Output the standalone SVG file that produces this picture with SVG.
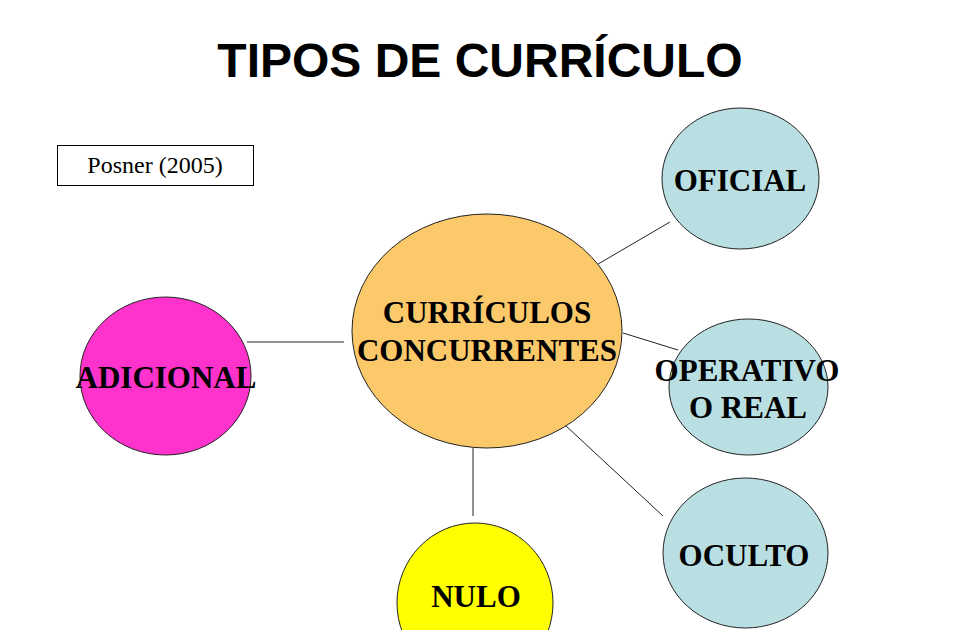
<svg xmlns="http://www.w3.org/2000/svg" width="960" height="630" viewBox="0 0 960 630">
<style>
.node{stroke:#222;stroke-width:1}
.lbl{font-family:"Liberation Serif","Times New Roman",serif;font-weight:bold;font-size:31px;fill:#000;text-anchor:middle}
.conn line{stroke:#222;stroke-width:1}
</style>
<rect width="960" height="630" fill="#fff"/>
<text x="480" y="77" font-family="Liberation Sans, Arial, sans-serif" font-weight="bold" font-size="48" text-anchor="middle" fill="#000">TIPOS DE CURRÍCULO</text>
<g id="posner">
<rect x="57.5" y="145.5" width="196" height="40" fill="#fff" stroke="#000" stroke-width="1"/>
<text x="155" y="173" font-family="Liberation Serif, Times New Roman, serif" font-size="24" text-anchor="middle" fill="#000">Posner (2005)</text>
</g>
<g id="connectors" class="conn">
<line x1="247" y1="342" x2="344" y2="342"/>
<line x1="593" y1="267" x2="670" y2="222"/>
<line x1="623" y1="333" x2="678" y2="350"/>
<line x1="565" y1="425" x2="663" y2="516"/>
<line x1="473" y1="448" x2="473" y2="516"/>
</g>
<g id="central">
<ellipse class="node" cx="487" cy="331" rx="135" ry="117" fill="#FBC96A"/>
<text class="lbl" x="487" y="323">CURRÍCULOS</text>
<text class="lbl" x="487" y="361">CONCURRENTES</text>
</g>
<g id="adicional">
<ellipse class="node" cx="165.5" cy="376" rx="85.5" ry="79" fill="#FF33CC"/>
<text class="lbl" x="166" y="388">ADICIONAL</text>
</g>
<g id="oficial">
<ellipse class="node" cx="740.5" cy="178.5" rx="78.5" ry="70.5" fill="#BADFE3"/>
<text class="lbl" x="740" y="191">OFICIAL</text>
</g>
<g id="operativo">
<ellipse class="node" cx="748.5" cy="387" rx="79.5" ry="68" fill="#BADFE3"/>
<text class="lbl" x="747" y="381">OPERATIVO</text>
<text class="lbl" x="748" y="418">O REAL</text>
</g>
<g id="oculto">
<ellipse class="node" cx="745.5" cy="553" rx="82.5" ry="75" fill="#BADFE3"/>
<text class="lbl" x="744" y="566">OCULTO</text>
</g>
<g id="nulo">
<ellipse class="node" cx="475" cy="603" rx="78" ry="80" fill="#FFFF00"/>
<text class="lbl" x="476" y="607">NULO</text>
</g>
</svg>
